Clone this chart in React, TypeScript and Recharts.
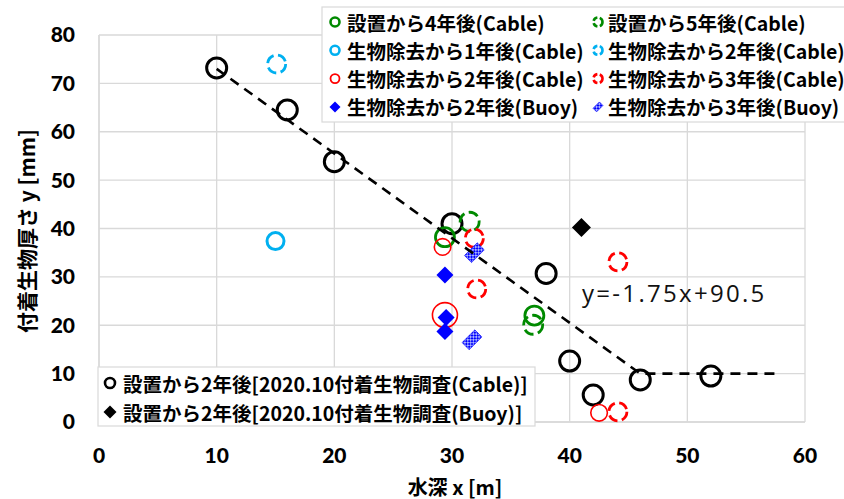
import React from "react";
import { ScatterChart, Scatter, XAxis, YAxis, CartesianGrid } from "recharts";

const xTicks = [0, 10, 20, 30, 40, 50, 60];
const yTicks = [0, 10, 20, 30, 40, 50, 60, 70, 80];

// 水深 x [m], 付着生物厚さ y [mm]
const cable2020 = [
  { x: 10, y: 73.2 },
  { x: 16, y: 64.5 },
  { x: 20, y: 53.8 },
  { x: 30, y: 41 },
  { x: 38, y: 30.7 },
  { x: 40, y: 12.6 },
  { x: 42, y: 5.6 },
  { x: 46, y: 8.7 },
  { x: 52, y: 9.5 },
];
const buoy2020 = [{ x: 41, y: 40.2 }];
const cable4y = [{ x: 29.4, y: 38.2 }, { x: 37, y: 22 }];
const cable5y = [{ x: 31.5, y: 41.4 }, { x: 36.9, y: 20.1 }];
const clean1yCable = [{ x: 15, y: 37.4 }];
const clean2yCableB = [{ x: 15.1, y: 74 }];
const clean2yCable = [{ x: 29.2, y: 36.2 }, { x: 42.5, y: 1.9 }];
const clean2yCableLarge = [{ x: 29.4, y: 22.1 }];
const clean3yCable = [
  { x: 31.9, y: 38 },
  { x: 32.1, y: 27.5 },
  { x: 44.1, y: 33.1 },
  { x: 44.1, y: 2.1 },
];
const clean2yBuoy = [
  { x: 29.4, y: 30.4 },
  { x: 29.5, y: 21.6 },
  { x: 29.4, y: 18.7 },
];
const clean3yBuoy = [{ x: 31.9, y: 35 }, { x: 31.7, y: 17 }];
const trend = [
  { x: 10, y: 73 },
  { x: 46, y: 10 },
  { x: 57.5, y: 10 },
];

const equation = "y=-1.75x+90.5";
const xTitle = "水深 x [m]";
const yTitle = "付着生物厚さ y [mm]";
const legendTop = [
  ["設置から4年後(Cable)", "設置から5年後(Cable)"],
  ["生物除去から1年後(Cable)", "生物除去から2年後(Cable)"],
  ["生物除去から2年後(Cable)", "生物除去から3年後(Cable)"],
  ["生物除去から2年後(Buoy)", "生物除去から3年後(Buoy)"],
];
const legendBottom = [
  "設置から2年後[2020.10付着生物調査(Cable)]",
  "設置から2年後[2020.10付着生物調査(Buoy)]",
];

const GREEN = "#008a00";
const CYAN = "#00b0f0";
const RED = "#ff0000";
const BLUE = "#0000ff";
const GRID = "#d9d9d9";
const CJK = '"Noto Sans CJK JP", "Noto Sans", sans-serif';

const ring = (r: number, color: string, w: number, dash?: string) => (p: any) =>
  (
    <circle
      cx={p.cx}
      cy={p.cy}
      r={r}
      fill="none"
      stroke={color}
      strokeWidth={w}
      strokeDasharray={dash}
    />
  );

const diamond = (h: number, color: string) => (p: any) =>
  (
    <polygon
      points={`${p.cx},${p.cy - h} ${p.cx + h},${p.cy} ${p.cx},${p.cy + h} ${p.cx - h},${p.cy}`}
      fill={color}
    />
  );

const checker = (len: number, wid: number) => (p: any) =>
  (
    <g transform={`translate(${p.cx},${p.cy}) rotate(-45)`}>
      <defs>
        <pattern id="chk" width="4" height="4" patternUnits="userSpaceOnUse">
          <rect width="4" height="4" fill={BLUE} />
          <rect width="2" height="2" fill="#aab4ff" />
          <rect x="2" y="2" width="2" height="2" fill="#aab4ff" />
        </pattern>
      </defs>
      <rect x={-len / 2} y={-wid / 2} width={len} height={wid} fill="url(#chk)" stroke={BLUE} strokeWidth={0.6} />
    </g>
  );

const noDot = () => <g />;

const markerTop = [
  [ring(4.5, GREEN, 2.6), ring(4.5, GREEN, 2.6, "5 2.5")],
  [ring(4.5, CYAN, 2.6), ring(4.5, CYAN, 2.6, "5 2.5")],
  [ring(4.5, RED, 1.8), ring(4.5, RED, 2.6, "5 2.5")],
  [diamond(5.5, BLUE), checker(9, 5)],
];
const markerBottom = [ring(5, "#000", 2.6), diamond(6.5, "#000")];

function Overlay() {
  return (
    <svg
      width={844}
      height={499}
      style={{ position: "absolute", left: 0, top: 0, pointerEvents: "none" }}
    >
      <text
        x={582}
        y={302}
        fontFamily='"Open Sans", sans-serif'
        fontSize={24}
        letterSpacing={2.3}
        fill="#111"
      >
        {equation}
      </text>
      <text
        x={455}
        y={486}
        textAnchor="middle"
        dominantBaseline="central"
        fontFamily={CJK}
        fontWeight={700}
        fontSize={20}
      >
        {xTitle}
      </text>
      <text
        transform="translate(26,231) rotate(-90)"
        textAnchor="middle"
        dominantBaseline="central"
        fontFamily={CJK}
        fontWeight={700}
        fontSize={21}
      >
        {yTitle}
      </text>

      <rect x={322} y={7} width={540} height={115} fill="#fff" stroke={GRID} strokeWidth={1.2} />
      {legendTop.map((row, i) =>
        row.map((label, j) => {
          const mx = j === 0 ? 335 : 598;
          const tx = j === 0 ? 347 : 608;
          const cy = 22 + i * 28.3;
          return (
            <g key={`${i}-${j}`}>
              {markerTop[i][j]({ cx: mx, cy })}
              <text
                x={tx}
                y={cy}
                dominantBaseline="central"
                fontFamily={CJK}
                fontWeight={700}
                fontSize={19.5}
              >
                {label}
              </text>
            </g>
          );
        })
      )}

      <rect x={98} y={367} width={437} height={59} fill="#fff" stroke={GRID} strokeWidth={1.2} />
      {legendBottom.map((label, i) => {
        const cy = 383 + i * 29;
        return (
          <g key={label}>
            {markerBottom[i]({ cx: 110, cy })}
            <text
              x={123}
              y={cy}
              dominantBaseline="central"
              fontFamily={CJK}
              fontWeight={700}
              fontSize={19.5}
            >
              {label}
            </text>
          </g>
        );
      })}
    </svg>
  );
}

export default function App() {
  const tickStyle = { fill: "#000", fontSize: 21, fontWeight: 900, fontFamily: "Lato, sans-serif" };
  return (
    <div style={{ position: "absolute", left: 0, top: 0, width: 844, height: 499, background: "#fff" }}>
      <ScatterChart width={844} height={499} margin={{ top: 35, right: 39, bottom: 27, left: 19 }}>
        <CartesianGrid stroke={GRID} strokeWidth={1.3} />
        <XAxis
          type="number"
          dataKey="x"
          domain={[0, 60]}
          ticks={xTicks}
          height={50}
          tickLine={false}
          tickSize={0}
          tickMargin={26}
          axisLine={{ stroke: GRID, strokeWidth: 1.3 }}
          tick={tickStyle}
        />
        <YAxis
          type="number"
          dataKey="y"
          domain={[0, 80]}
          ticks={yTicks}
          width={80}
          tickLine={false}
          tickSize={0}
          tickMargin={24}
          axisLine={{ stroke: GRID, strokeWidth: 1.3 }}
          tick={tickStyle}
        />
        <Scatter data={cable2020} shape={ring(10, "#000", 3)} isAnimationActive={false} />
        <Scatter data={buoy2020} shape={diamond(9.5, "#000")} isAnimationActive={false} />
        <Scatter data={cable4y} shape={ring(9.5, GREEN, 2.8)} isAnimationActive={false} />
        <Scatter data={cable5y} shape={ring(9.5, GREEN, 2.8, "10 4.5")} isAnimationActive={false} />
        <Scatter data={clean1yCable} shape={ring(8.5, CYAN, 3)} isAnimationActive={false} />
        <Scatter data={clean2yCableB} shape={ring(9, CYAN, 2.8, "10 4.5")} isAnimationActive={false} />
        <Scatter data={clean2yCable} shape={ring(8.3, RED, 1.6)} isAnimationActive={false} />
        <Scatter data={clean2yCableLarge} shape={ring(12.5, RED, 1.6)} isAnimationActive={false} />
        <Scatter data={clean3yCable} shape={ring(9, RED, 2.8, "10 4.5")} isAnimationActive={false} />
        <Scatter data={clean2yBuoy} shape={diamond(8.5, BLUE)} isAnimationActive={false} />
        <Scatter data={clean3yBuoy} shape={checker(18, 10)} isAnimationActive={false} />
        <Scatter
          data={trend}
          shape={noDot}
          line={{ stroke: "#000", strokeWidth: 2.6, strokeDasharray: "10 7" }}
          isAnimationActive={false}
        />
      </ScatterChart>
      <Overlay />
    </div>
  );
}
